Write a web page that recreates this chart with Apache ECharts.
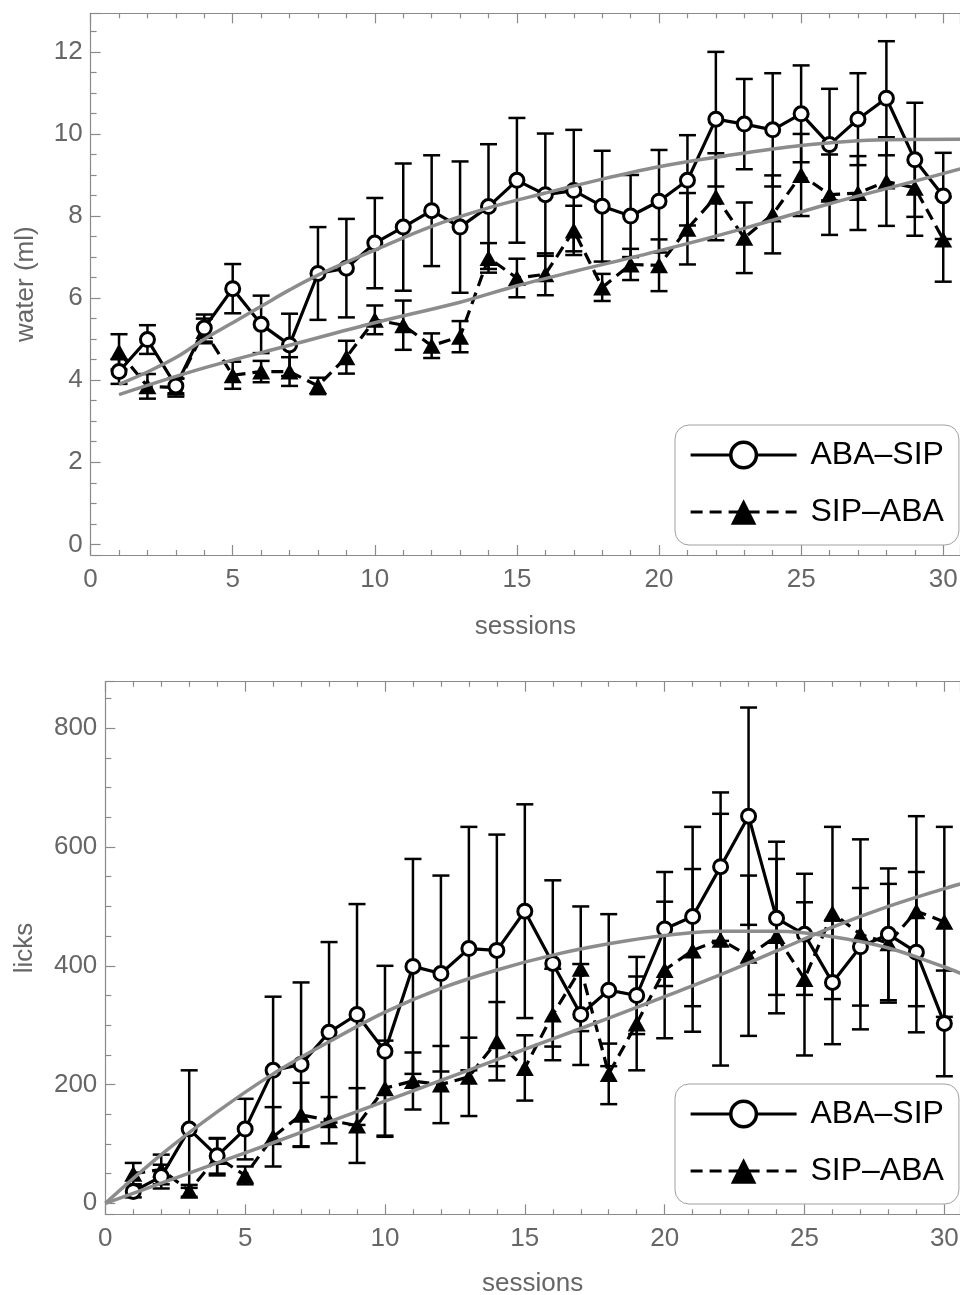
<!DOCTYPE html>
<html>
<head>
<meta charset="utf-8">
<script src="https://cdn.jsdelivr.net/npm/echarts@6/dist/echarts.min.js"></script>
<style>
  html, body { margin: 0; padding: 0; background: #fff; }
  #main { width: 960px; height: 1295px; }
</style>
</head>
<body>
<div id="main"></div>
<script>
// ---- data -------------------------------------------------------------
const sessions = [1,2,3,4,5,6,7,8,9,10,11,12,13,14,15,16,17,18,19,20,21,22,23,24,25,26,27,28,29,30];
const groupNames = ['ABA\u2013SIP', 'SIP\u2013ABA'];

// water intake (ml), mean and SEM per session
const waterAbaSip    = [4.21,4.99,3.86,5.27,6.23,5.36,4.86,6.60,6.73,7.34,7.73,8.13,7.73,8.23,8.87,8.52,8.62,8.24,8.00,8.36,8.87,10.36,10.24,10.10,10.49,9.74,10.36,10.87,9.37,8.49];
const waterAbaSipErr = [0.30,0.35,0.18,0.33,0.60,0.70,0.76,1.13,1.20,1.10,1.55,1.35,1.60,1.52,1.52,1.49,1.48,1.35,1.00,1.25,1.10,1.64,1.10,1.38,1.18,1.36,1.12,1.39,1.39,1.05];
const waterSipAba    = [4.69,3.85,3.82,5.20,4.12,4.21,4.21,3.86,4.56,5.47,5.34,4.84,5.06,6.98,6.49,6.58,7.65,6.26,6.82,6.80,7.69,8.47,7.47,8.04,9.00,8.52,8.56,8.84,8.69,7.43];
const waterSipAbaErr = [0.43,0.30,0.22,0.30,0.33,0.26,0.35,0.20,0.40,0.35,0.60,0.30,0.38,0.36,0.47,0.51,0.60,0.33,0.38,0.63,0.87,1.06,0.86,0.95,1.00,0.98,0.90,1.08,1.17,1.03];
// fitted trend curves, [session, ml]
const waterFitAbaSip = [[1,3.90],[2,4.20],[3,4.55],[4,5.00],[5,5.40],[6,5.80],[7,6.20],[8,6.56],[10,7.17],[12,7.75],[14,8.20],[16,8.56],[18,8.90],[20,9.20],[22,9.43],[25,9.72],[28,9.86],[30.6,9.87]];
const waterFitSipAba = [[1,3.65],[4,4.30],[7,4.85],[10,5.40],[13,5.90],[15,6.30],[17,6.65],[20,7.15],[23,7.70],[26,8.30],[29,8.85],[30.6,9.15]];

// licks, mean and SEM per session
const licksAbaSip    = [20,45,125,80,125,224,234,288,318,256,399,387,429,426,492,404,318,359,350,462,483,567,652,480,453,372,432,453,423,303];
const licksAbaSipErr = [10,20,99,30,51,124,138,152,186,144,181,165,205,195,180,140,85,128,65,96,151,125,183,129,102,104,99,111,135,89];
const licksSipAba    = [50,57,21,78,47,112,149,140,131,194,206,200,213,273,228,318,395,218,303,393,426,444,417,450,378,489,453,438,492,474];
const licksSipAbaErr = [18,25,10,31,15,50,54,39,63,80,48,65,66,66,55,77,105,51,79,115,137,212,135,130,129,145,160,100,160,160];
// fitted trend curves, [session, licks]
const licksFitAbaSip = [[0,0],[2,82],[4,154],[6,218],[8,272],[10,322],[12,362],[14,393],[16,418],[18,437],[20,451],[22,458],[24,458],[26,449],[28,430],[30,398],[30.6,387]];
const licksFitSipAba = [[0,0],[2,34],[4,68],[6,102],[8,137],[10,172],[12,207],[14,242],[16,277],[18,312],[20,348],[22,385],[24,425],[26,465],[28,500],[30,530],[30.6,538]];

// ---- styling ----------------------------------------------------------
const FONT = '"Liberation Sans", Arial, Helvetica, sans-serif';
const FRAME = '#8a8a8a';
const LABEL = '#666666';
const TREND = '#8c8c8c';
const LINE_W = 3.2;
const DASH = [12, 7];

function pairs(values) { return sessions.map((s, i) => [s, values[i]]); }
function ranges(values, errs) { return sessions.map((s, i) => [s, values[i] - errs[i], values[i] + errs[i]]); }

function xAxis(gridIndex, max, position, withLabels, gap) {
  return {
    type: 'value', gridIndex, position, min: 0, max,
    minInterval: 5, maxInterval: 5,
    axisLine: { show: true, onZero: false, lineStyle: { color: FRAME, width: 1.2 } },
    axisTick: { show: true, inside: true, length: 10, lineStyle: { color: FRAME, width: 1.2 } },
    minorTick: { show: true, splitNumber: 5, length: 5, lineStyle: { color: FRAME, width: 1.2 } },
    splitLine: { show: false }, minorSplitLine: { show: false },
    axisLabel: { show: withLabels, margin: 12, color: LABEL, fontSize: 26, fontFamily: FONT,
                 showMinLabel: true, showMaxLabel: false },
    name: withLabels ? 'sessions' : '', nameLocation: 'middle', nameGap: gap,
    nameTextStyle: { color: LABEL, fontSize: 26, fontFamily: FONT }
  };
}

function yAxis(gridIndex, min, max, step, minorSplit, title, gap) {
  return {
    type: 'value', gridIndex, position: 'left', min, max,
    minInterval: step, maxInterval: step,
    axisLine: { show: true, onZero: false, lineStyle: { color: FRAME, width: 1.2 } },
    axisTick: { show: true, inside: true, length: 10, lineStyle: { color: FRAME, width: 1.2 } },
    minorTick: { show: true, splitNumber: minorSplit, length: 6, lineStyle: { color: FRAME, width: 1.2 } },
    splitLine: { show: false }, minorSplitLine: { show: false },
    axisLabel: { margin: 8, color: LABEL, fontSize: 26, fontFamily: FONT,
                 showMinLabel: false, showMaxLabel: false },
    name: title, nameLocation: 'middle', nameGap: gap,
    nameTextStyle: { color: LABEL, fontSize: 26, fontFamily: FONT }
  };
}

function errorBars(axisIndex, data) {
  return {
    type: 'custom', xAxisIndex: axisIndex * 2, yAxisIndex: axisIndex, z: 2, silent: true,
    data, encode: { x: 0, y: [1, 2] },
    renderItem(params, api) {
      const x = api.value(0);
      const lo = api.coord([x, api.value(1)]);
      const hi = api.coord([x, api.value(2)]);
      const w = 8.5;
      const style = { stroke: '#000', lineWidth: 2.5 };
      return { type: 'group', children: [
        { type: 'line', shape: { x1: lo[0], y1: lo[1], x2: hi[0], y2: hi[1] }, style },
        { type: 'line', shape: { x1: lo[0] - w, y1: lo[1], x2: lo[0] + w, y2: lo[1] }, style },
        { type: 'line', shape: { x1: hi[0] - w, y1: hi[1], x2: hi[0] + w, y2: hi[1] }, style }
      ]};
    }
  };
}

function meanLine(axisIndex, name, data, dashed) {
  const s = {
    type: 'line', name, xAxisIndex: axisIndex * 2, yAxisIndex: axisIndex, z: 3,
    data, showSymbol: true, animation: false,
    lineStyle: { color: '#000', width: LINE_W, type: dashed ? DASH : 'solid' }
  };
  if (dashed) {
    s.symbol = 'triangle'; s.symbolSize = [18, 16];
    s.itemStyle = { color: '#000' };
  } else {
    s.symbol = 'circle'; s.symbolSize = 14;
    s.itemStyle = { color: '#fff', borderColor: '#000', borderWidth: 3 };
  }
  return s;
}

function trend(axisIndex, data) {
  return {
    type: 'line', xAxisIndex: axisIndex * 2, yAxisIndex: axisIndex, z: 6, silent: true,
    data, showSymbol: false, symbol: 'none', smooth: 0.35, animation: false,
    lineStyle: { color: TREND, width: 3.5 }
  };
}

function legendBox(top) {
  return {
    data: [
      { name: groupNames[0],
        lineStyle: { color: '#000', width: LINE_W, type: 'solid' },
        itemStyle: { color: '#fff', borderColor: '#000', borderWidth: 3.5 } },
      { name: groupNames[1],
        lineStyle: { color: '#000', width: LINE_W, type: DASH },
        itemStyle: { color: '#000', borderColor: '#000', borderWidth: 0 } }
    ],
    orient: 'vertical', left: 675, top,
    itemWidth: 106, itemHeight: 32, itemGap: 25,
    padding: [14, 15, 17, 14],
    backgroundColor: '#fff', borderColor: '#a0a0a0', borderWidth: 1, borderRadius: 14,
    formatter: ' {name}',
    textStyle: { color: '#000', fontSize: 32, fontFamily: FONT },
    selectedMode: false
  };
}

const chart = echarts.init(document.getElementById('main'), null, { renderer: 'canvas' });
chart.setOption({
  animation: false,
  backgroundColor: '#fff',
  grid: [
    { left: 90.6, top: 13.3, right: 0, height: 541.7, outerBoundsMode: 'none' },
    { left: 105.3, top: 681.7, right: 0, height: 532.6, outerBoundsMode: 'none' }
  ],
  xAxis: [
    xAxis(0, 30.59, 'bottom', true, 59), xAxis(0, 30.59, 'top', false, 0),
    xAxis(1, 30.56, 'bottom', true, 57), xAxis(1, 30.56, 'top', false, 0)
  ],
  yAxis: [
    yAxis(0, -0.26, 12.94, 2, 4, 'water (ml)', 52),
    yAxis(1, -18.5, 878.5, 200, 4, 'licks', 67)
  ],
  legend: [legendBox(425), legendBox(1084)],
  series: [
    errorBars(0, ranges(waterAbaSip, waterAbaSipErr)),
    errorBars(0, ranges(waterSipAba, waterSipAbaErr)),
    meanLine(0, groupNames[1], pairs(waterSipAba), true),
    meanLine(0, groupNames[0], pairs(waterAbaSip), false),
    trend(0, waterFitAbaSip),
    trend(0, waterFitSipAba),
    errorBars(1, ranges(licksAbaSip, licksAbaSipErr)),
    errorBars(1, ranges(licksSipAba, licksSipAbaErr)),
    meanLine(1, groupNames[1], pairs(licksSipAba), true),
    meanLine(1, groupNames[0], pairs(licksAbaSip), false),
    trend(1, licksFitAbaSip),
    trend(1, licksFitSipAba)
  ]
});
</script>
</body>
</html>
